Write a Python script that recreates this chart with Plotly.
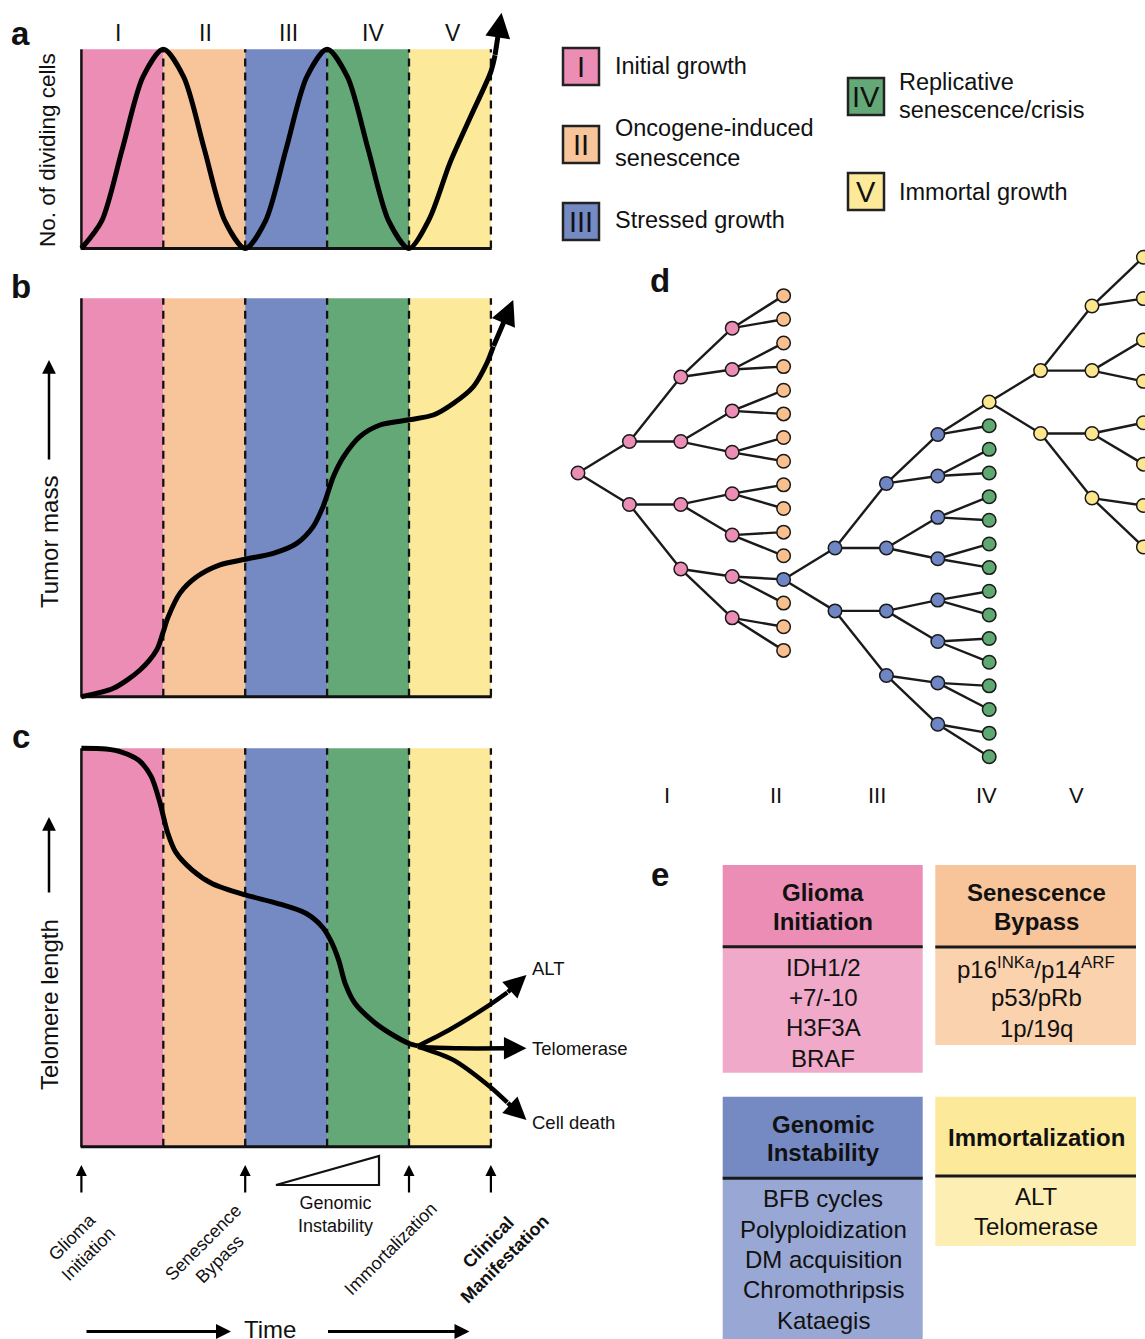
import plotly.graph_objects as go

W, H = 1145, 1339
FONT = "Liberation Sans, Arial, Helvetica, sans-serif"
INK = "#111111"

# ---------------- data ----------------
phase_labels = ["I", "II", "III", "IV", "V"]
phase_edges = [0, 1, 2, 3, 4, 5]
phase_colors = ["#EC8DB5", "#F8C499", "#7589C3", "#64A877", "#FDE99A"]
phase_label_pos = [0.45, 1.51, 2.53, 3.56, 4.54]

legend_names = [["Initial growth"], ["Oncogene-induced", "senescence"], ["Stressed growth"],
                ["Replicative", "senescence/crisis"], ["Immortal growth"]]

# a: number of dividing cells (last point = arrow tip)
div_x = [0, 0.25, 0.5, 0.75, 1, 1.25, 1.5, 1.75, 2, 2.25, 2.5, 2.75, 3, 3.25, 3.5, 3.75,
         4, 4.25, 4.5, 4.75, 5.0, 5.05, 5.13]
div_y = [0, 0.14, 0.5, 0.86, 1, 0.86, 0.5, 0.14, 0, 0.14, 0.5, 0.86, 1, 0.86, 0.5, 0.14,
         0, 0.15, 0.43, 0.66, 0.888, 0.97, 1.184]

# b: tumor mass (last point = arrow tip)
mass_x = [0, 0.39, 0.716, 0.919, 0.993, 1.061, 1.204, 1.408, 1.692, 2.0, 2.343, 2.63, 2.83,
          2.95, 3.0, 3.076, 3.2, 3.4, 3.646, 4.0, 4.297, 4.54, 4.785, 4.95, 5.03, 5.273]
mass_y = [0, 0.021, 0.067, 0.117, 0.159, 0.201, 0.26, 0.301, 0.331, 0.345, 0.36, 0.385, 0.427,
          0.477, 0.506, 0.552, 0.602, 0.653, 0.682, 0.695, 0.707, 0.736, 0.778, 0.837, 0.879,
          0.996]

# c: telomere length
telo_x = [0, 0.3, 0.5, 0.7, 0.85, 0.95, 1.0, 1.05, 1.15, 1.35, 1.6, 2.0, 2.39, 2.74, 2.94,
          3.04, 3.14, 3.22, 3.34, 3.59, 3.84, 4.0, 4.11]
telo_y = [1.0, 0.998, 0.99, 0.97, 0.93, 0.87, 0.83, 0.79, 0.74, 0.695, 0.66, 0.632, 0.611,
          0.586, 0.552, 0.519, 0.469, 0.41, 0.36, 0.31, 0.276, 0.259, 0.253]
branch_labels = ["ALT", "Telomerase", "Cell death"]
alt_x = [4.11, 4.49, 4.985, 5.2, 5.434]
alt_y = [0.253, 0.293, 0.356, 0.387, 0.431]
tel_x = [4.11, 4.6, 5.2, 5.434]
tel_y = [0.250, 0.247, 0.247, 0.247]
death_x = [4.11, 4.536, 4.985, 5.2, 5.434]
death_y = [0.251, 0.218, 0.151, 0.111, 0.067]

event_labels = ["Glioma<br>Initiation", "Senescence<br>Bypass", "Immortalization",
                "<b>Clinical<br>Manifestation</b>"]
event_pos = [0, 2, 4, 5]

# d: clonal tree (generation, slot offset per level)
tree_offsets = [
    [0.0],
    [-1.33, 1.33],
    [-4.06, -1.33, 1.33, 4.06],
    [-6.125, -4.375, -2.625, -0.875, 0.875, 2.625, 4.375, 6.125],
    [-7.5, -6.5, -5.5, -4.5, -3.5, -2.5, -1.5, -0.5, 0.5, 1.5, 2.5, 3.5, 4.5, 5.5, 6.5, 7.5],
]
tree_root_gen = [0, 4, 8]
tree_root_slot = [0.0, 4.5, -3.0]
tree_depth = [4, 4, 3]
tree_handoff_leaf = [12, 0, None]
node_colors = {"pink": "#EC8DB5", "orange": "#F9C08E", "blue": "#6F86C4",
               "green": "#5EA871", "yellow": "#FCE78F"}
tree_inner = ["pink", "blue", "yellow"]
tree_leaf = ["orange", "green", "yellow"]
tree_phase_pos = [1.73, 3.86, 5.81, 7.94, 9.69]

# e: tables
table_titles = [["Glioma", "Initiation"], ["Senescence", "Bypass"],
                ["Genomic", "Instability"], ["Immortalization"]]
table_items = [["IDH1/2", "+7/-10", "H3F3A", "BRAF"],
               ["p16<sup>INKa</sup>/p14<sup>ARF</sup>", "p53/pRb", "1p/19q"],
               ["BFB cycles", "Polyploidization", "DM acquisition", "Chromothripsis", "Kataegis"],
               ["ALT", "Telomerase"]]
table_head_colors = ["#EC8DB5", "#F8C499", "#7589C3", "#FDE99A"]
table_body_colors = ["#F0A9C8", "#FAD2AE", "#98A7D3", "#FDEFB3"]


# ---------------- helpers ----------------
def X(px):
    return px / W


def Y(py):
    return 1 - py / H


def xr(px0, ppu):
    return [-px0 / ppu, (W - px0) / ppu]


def yr(py0, ppu):
    return [(py0 - H) / ppu, py0 / ppu]


fig = go.Figure()
shapes = []
ann = []


def text(x, y, s, size, xref="paper", yref="paper", xanchor="center", bold=False, **kw):
    ann.append(dict(x=x, y=y, xref=xref, yref=yref, text=f"<b>{s}</b>" if bold else s,
                    showarrow=False, xanchor=xanchor, yanchor="middle",
                    font=dict(size=size, family=FONT, color=INK), **kw))


def arrow(x, y, ax, ay, width, size=1.0, xref="paper", yref="paper", axref="pixel", ayref="pixel"):
    ann.append(dict(x=x, y=y, ax=ax, ay=ay, xref=xref, yref=yref, axref=axref, ayref=ayref,
                    text="", showarrow=True, arrowhead=2, arrowsize=size, arrowwidth=width,
                    arrowcolor="black", xanchor="center", yanchor="middle",
                    font=dict(size=1), borderpad=0))


axc = dict(domain=[0, 1], visible=False, fixedrange=True, showgrid=False, zeroline=False)
layout_axes = dict(
    xaxis=dict(axc, range=xr(81.4, 81.9), anchor="y"),
    yaxis=dict(axc, range=yr(248.5, 199.2), anchor="x"),
    xaxis2=dict(axc, range=xr(81.4, 81.9), anchor="y2"),
    yaxis2=dict(axc, range=yr(696.7, 398.4), anchor="x2"),
    xaxis3=dict(axc, range=xr(81.4, 81.9), anchor="y3"),
    yaxis3=dict(axc, range=yr(1146.7, 398.4), anchor="x3"),
    xaxis4=dict(axc, range=xr(578, 51.4), anchor="y4"),
    yaxis4=dict(axc, range=[(H - 473) / 23.65, -473 / 23.65], anchor="x4"),
)

# panels a, b, c backgrounds and frames (all below the curves)
for xa, ya in [("x", "y"), ("x2", "y2"), ("x3", "y3")]:
    for i in range(5):
        shapes.append(dict(type="rect", xref=xa, yref=ya, x0=phase_edges[i], x1=phase_edges[i + 1],
                           y0=0, y1=1, fillcolor=phase_colors[i], line=dict(width=0), layer="below"))
    for e in phase_edges[1:]:
        shapes.append(dict(type="line", xref=xa, yref=ya, x0=e, x1=e, y0=0, y1=1, layer="below",
                           line=dict(color=INK, width=2.3, dash="8px,6px")))
    shapes.append(dict(type="line", xref=xa, yref=ya, x0=0, x1=0, y0=0, y1=1, layer="below",
                       line=dict(color=INK, width=2.5)))
    shapes.append(dict(type="line", xref=xa, yref=ya, x0=-0.01, x1=5.01, y0=0, y1=0, layer="below",
                       line=dict(color=INK, width=3)))


def curve(xs, ys, xa, ya, width=5):
    fig.add_trace(go.Scatter(x=xs, y=ys, mode="lines", xaxis=xa, yaxis=ya, cliponaxis=False,
                             line=dict(color="black", width=width, shape="spline", smoothing=0.8),
                             hoverinfo="skip", showlegend=False))


def arrow_end(xs, ys, xa, ya, width=5, size=1.0):
    arrow(xs[-1], ys[-1], xs[-2], ys[-2], width, size, xref=xa, yref=ya, axref=xa, ayref=ya)


# a
curve(div_x[:-1], div_y[:-1], "x", "y")
arrow_end(div_x, div_y, "x", "y", 5, 1.0)
for lab, p in zip(phase_labels, phase_label_pos):
    text(p, Y(33), lab, 23, xref="x")
# b
curve(mass_x[:-1], mass_y[:-1], "x2", "y2")
arrow_end(mass_x, mass_y, "x2", "y2", 5, 1.0)
# c
curve(telo_x, telo_y, "x3", "y3")
for bx, by in [(alt_x, alt_y), (tel_x, tel_y), (death_x, death_y)]:
    curve(bx[:-1], by[:-1], "x3", "y3", width=4.5)
    arrow_end(bx, by, "x3", "y3", 4.5, 1.0)
for lab, py in zip(branch_labels, [968, 1048, 1122]):
    text(X(530), Y(py), lab, 18.5, xanchor="left")

# event arrows below c
for p in event_pos:
    arrow(p, Y(1165), 0, 28, 2.2, 1.0, xref="x3")
ev_centers = [(79.8, 1245), (211.6, 1250.8), (390.6, 1249.2), (496.2, 1250)]
for lab, (cx, cy) in zip(event_labels, ev_centers):
    text(X(cx), Y(cy), lab, 18, textangle=-45, align="center")
shapes.append(dict(type="path", xref="paper", yref="paper",
                   path=f"M {X(276)} {Y(1185)} L {X(379)} {Y(1156)} L {X(379)} {Y(1185)} Z",
                   line=dict(color=INK, width=2.2), fillcolor="rgba(0,0,0,0)"))
text(X(335.7), Y(1214.6), "Genomic<br>Instability", 18, align="center")
# time
arrow(X(231), Y(1331.5), -145, 0, 3, 1.0)
arrow(X(469.5), Y(1331.5), -142, 0, 3, 1.0)
text(X(270), Y(1329), "Time", 24)

# y titles
text(X(48), Y(150), "No. of dividing cells", 22.5, textangle=-90)
text(X(49), Y(542), "Tumor mass", 24, textangle=-90)
text(X(50), Y(1005), "Telomere length", 24, textangle=-90)
for tip_y, tail in [(360, 100), (817, 76)]:
    arrow(X(49), Y(tip_y), 0, tail, 2.5, 1.1)

# panel letters
for lab, (cx, cy) in zip("abcde", [(21, 33), (21, 286), (21, 736), (660, 280), (660, 874)]):
    text(X(cx), Y(cy), lab, 33, bold=True)

# legend
leg_boxes = [(563, 48), (563, 126), (563, 203), (848, 78), (848, 173)]
leg_text_x = [612.6, 612.6, 612.6, 897, 897]
leg_text_y = [[66], [128, 158], [220], [82, 110], [192]]
for i in range(5):
    bx, by = leg_boxes[i]
    shapes.append(dict(type="rect", xref="paper", yref="paper", x0=X(bx), x1=X(bx + 36),
                       y0=Y(by + 37), y1=Y(by), fillcolor=phase_colors[i],
                       line=dict(color="#222222", width=2.5)))
    text(X(bx + 18), Y(by + 19), phase_labels[i], 29)
    for line_txt, ty in zip(legend_names[i], leg_text_y[i]):
        text(X(leg_text_x[i]), Y(ty), line_txt, 23.5, xanchor="left")

# d tree
edge_x, edge_y = [], []
node_x, node_y, node_c = [], [], []
for t in range(3):
    g0, s0, depth = tree_root_gen[t], tree_root_slot[t], tree_depth[t]
    for lvl in range(depth + 1):
        for i, off in enumerate(tree_offsets[lvl]):
            gx, sy = g0 + lvl, s0 + off
            if lvl < depth:
                for c in (2 * i, 2 * i + 1):
                    edge_x += [gx, g0 + lvl + 1, None]
                    edge_y += [sy, s0 + tree_offsets[lvl + 1][c], None]
            if lvl == depth and i == tree_handoff_leaf[t]:
                continue
            col = tree_leaf[t] if lvl == depth else tree_inner[t]
            node_x.append(gx)
            node_y.append(sy)
            node_c.append(node_colors[col])
fig.add_trace(go.Scatter(x=edge_x, y=edge_y, mode="lines", xaxis="x4", yaxis="y4",
                         line=dict(color="#1a1a1a", width=2.4), hoverinfo="skip",
                         showlegend=False, cliponaxis=False))
fig.add_trace(go.Scatter(x=node_x, y=node_y, mode="markers", xaxis="x4", yaxis="y4",
                         marker=dict(size=13.5, color=node_c, line=dict(color="#1a1a1a", width=1.5)),
                         hoverinfo="skip", showlegend=False, cliponaxis=False))
for lab, g in zip(phase_labels, tree_phase_pos):
    text(g, Y(795), lab, 22, xref="x4")

# e tables
tbl_x = [(722.7, 922.7), (935.3, 1136), (722.7, 922.7), (935.3, 1136)]
tbl_head = [(865, 946.7), (865, 947), (1096.7, 1178.3), (1096.7, 1176)]
tbl_bottom = [1072.7, 1045, 1345, 1246]
for k in range(4):
    x0, x1 = tbl_x[k]
    h0, h1 = tbl_head[k]
    shapes.append(dict(type="rect", xref="paper", yref="paper", x0=X(x0), x1=X(x1),
                       y0=Y(h1), y1=Y(h0), fillcolor=table_head_colors[k], line=dict(width=0)))
    shapes.append(dict(type="rect", xref="paper", yref="paper", x0=X(x0), x1=X(x1),
                       y0=Y(tbl_bottom[k]), y1=Y(h1), fillcolor=table_body_colors[k],
                       line=dict(width=0)))
    shapes.append(dict(type="line", xref="paper", yref="paper", x0=X(x0), x1=X(x1),
                       y0=Y(h1), y1=Y(h1), line=dict(color="#1a1a1a", width=3)))
    cx = (x0 + x1) / 2 + 0.5
    nt = len(table_titles[k])
    hc = (h0 + h1) / 2 + 1
    for j, t in enumerate(table_titles[k]):
        ty = hc + (j - (nt - 1) / 2) * 28.7
        text(X(cx), Y(ty), t, 24, bold=True)
    for j, t in enumerate(table_items[k]):
        ty = h1 + 20.5 + j * 30.3
        text(X(cx), Y(ty), t, 24)

fig.update_layout(
    width=W, height=H, margin=dict(l=0, r=0, t=0, b=0),
    paper_bgcolor="white", plot_bgcolor="rgba(0,0,0,0)",
    showlegend=False, shapes=shapes, annotations=ann,
    font=dict(family=FONT, color=INK),
    **layout_axes,
)

fig.write_html("out.html", config={"displayModeBar": False},
               post_script="document.body.style.margin='0';document.body.style.overflow='hidden';")
